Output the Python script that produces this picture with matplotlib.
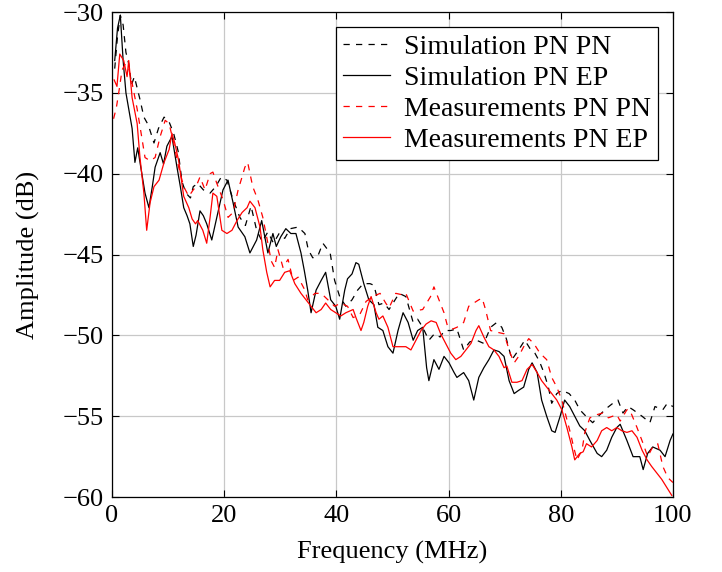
import numpy as np
import matplotlib.pyplot as plt

plt.rcParams['font.family'] = ['Liberation Serif', 'DejaVu Serif']
plt.rcParams['mathtext.fontset'] = 'stix'

# Simulation PN PN (black dashed)
f_sim_pnpn = [0.5, 1, 1.5, 2, 2.5, 3, 3.5, 4, 5, 5.7, 6.5, 7.5, 8.3, 9.3, 10.2, 11, 11.8, 12.5, 13.2,
              14, 14.5, 15.3, 16.3, 17.5, 18.5, 19.5, 20.5, 21.5, 22.8, 23.8, 24.8, 25.8, 26.8, 27.8,
              28.8, 29.8, 30.8, 31.8, 33.2, 34.4, 35, 35.8, 36.7, 37.6, 38.9, 39.7, 40.6, 41.7, 42.8,
              43.8, 44.8, 46, 46.7, 47.6, 48.5, 49.4, 50.3, 51.2, 52.4, 53.7, 54.5, 55.4, 56.5, 57.5,
              58.5, 59.3, 60.4, 61.5, 62.7, 63.8, 65, 66.3, 67.5, 68.6, 69.5, 70.3, 71.3, 72.5, 73.6,
              74.5, 75.4, 76.2, 77, 77.8, 78.4, 79.3, 80.2, 81.5, 82.5, 83.4, 84.5, 85.7, 87, 88.2,
              89.3, 90.2, 91.1, 92, 92.9, 94.5, 95.9, 96.8, 98.2, 99, 100]
v_sim_pnpn = [-33.5, -31.5, -30.2, -30.8, -32.5, -33.2, -34.5, -34.0, -35.4, -36.5, -37.0, -38.1, -37.2, -36.5,
              -36.8, -37.5, -38.6, -40.5, -41.2, -41.5, -40.8, -40.6, -41.0, -41.2, -40.8, -40.2, -40.4,
              -41.5, -42.7, -43.2, -42.0, -43.5, -44.2, -43.6, -44.3, -43.7, -44.0, -43.4, -43.3, -43.7,
              -44.7, -45.2, -45.1, -44.3, -44.9, -46.6, -47.6, -48.2, -47.8, -47.2, -46.8, -46.8, -46.9,
              -48.1, -48.0, -48.4, -47.9, -47.4, -47.6, -49.2, -49.0, -49.5, -50.3, -49.9, -50.1, -49.7,
              -49.7, -49.6, -50.9, -50.4, -50.3, -50.5, -49.5, -49.2, -49.5, -50.2, -51.5, -50.9, -50.3,
              -50.8, -51.1, -51.6, -52.3, -53.2, -54.2, -53.6, -53.4, -53.6, -54.0, -54.6, -55.0, -55.4,
              -54.9, -54.5, -54.2, -54.0, -54.8, -54.4, -54.6, -55.0, -55.4, -54.4, -54.6, -54.2, -54.4]

# Simulation PN EP (black solid)
f_sim_pnep = [0.5, 1, 1.5, 2, 2.5, 3, 3.6, 4.1, 4.6, 5.1, 5.9, 6.6, 7.2, 7.7, 8.6, 9.2, 9.8, 10.7, 11.6,
              12.2, 12.8, 13.4, 13.9, 14.5, 15, 15.7, 16.3, 16.9, 17.8, 18.7, 19.8, 20.7, 21.6, 22.5,
              23.7, 24.6, 25.8, 26.7, 27.8, 28.7, 29.3, 30.1, 31, 31.9, 32.8, 33.7, 34.3, 34.9, 35.5,
              36.4, 37.3, 38.1, 39, 39.9, 40.6, 41.5, 42, 42.8, 43.5, 44, 44.9, 45.8, 46.7, 47.4, 48.3,
              49.2, 50.1, 51, 51.9, 52.8, 53.7, 54.5, 55.4, 56.1, 56.5, 57.4, 58.3, 59.2, 60.1, 61,
              61.5, 62.7, 63.6, 64.5, 65.4, 66.3, 67.2, 68.1, 69, 69.9, 70.8, 71.7, 72.5, 73.4, 74.3,
              74.9, 75.8, 76.6, 77.5, 78.4, 79, 79.9, 80.7, 81.6, 82.5, 83.4, 84.3, 85.2, 86.5, 87.3,
              88.2, 89.1, 90, 90.6, 91.8, 92.9, 94.1, 94.7, 95.5, 96.4, 97.7, 98.6, 99.5, 100]
v_sim_pnep = [-33.0, -31.0, -30.2, -33.0, -35.0, -36.0, -37.2, -39.3, -38.4, -39.5, -41.2, -42.1, -40.8,
              -39.6, -38.7, -39.4, -38.3, -37.7, -39.6, -40.8, -42.1, -42.6, -43.1, -44.5, -43.8, -42.3,
              -42.6, -43.1, -44.1, -42.7, -41.0, -40.4, -41.8, -43.3, -43.9, -44.9, -44.1, -42.9, -44.9,
              -43.7, -44.5, -43.9, -43.4, -43.7, -43.7, -44.9, -46.0, -47.2, -48.6, -47.2, -46.6, -46.1,
              -47.8, -48.2, -49.0, -47.2, -46.5, -46.2, -45.5, -45.6, -46.8, -47.8, -48.1, -49.5, -49.7,
              -50.7, -51.1, -49.7, -48.6, -49.2, -50.3, -49.7, -49.5, -52.0, -52.8, -51.5, -52.1, -51.3,
              -51.7, -52.3, -52.6, -52.3, -52.8, -54.0, -52.6, -52.0, -51.5, -50.9, -51.0, -51.3, -52.8,
              -53.6, -53.4, -53.2, -52.1, -51.7, -52.3, -54.0, -55.0, -55.9, -56.0, -55.0, -54.0, -54.4,
              -55.0, -55.6, -55.9, -56.5, -57.3, -57.5, -57.1, -56.3, -55.7, -55.5, -56.5, -57.5, -57.5,
              -58.3, -57.3, -56.9, -57.1, -57.5, -56.5, -56.1]

# Measurements PN PN (red dashed)
f_mes_pnpn = [0.3, 0.8, 1.3, 1.8, 2.4, 3.0, 3.6, 4.5, 5.3, 5.9, 6.8, 7.7, 8.6, 9.5, 10.2, 11, 11.9, 12.8,
              13.7, 14.5, 15, 15.7, 16.6, 17.5, 18, 18.7, 19.8, 20.7, 21.6, 22.5, 23.2, 23.7, 24.2, 25.1,
              26, 26.9, 27.8, 28.4, 29, 29.6, 30.5, 31.4, 32.3, 33.2, 34.4, 34.9, 36.2, 37.3, 38.5, 39.7,
              40.8, 42, 43, 44.2, 45.3, 46.5, 47.8, 48.8, 49.4, 50.6, 51.9, 52.4, 53.7, 55.4, 56.8, 57.4,
              58.3, 59.2, 59.8, 60.8, 61.5, 62.7, 63.6, 64.5, 65.4, 66, 66.6, 67.5, 68.6, 69.9, 71, 71.7,
              72.5, 73.4, 74.3, 75.2, 76.3, 77.5, 78.4, 79.3, 80.2, 81.1, 81.7, 82.3, 82.9, 83.8, 84.3,
              85.2, 86.5, 87.5, 88.5, 90, 90.6, 91.8, 92.3, 93.6, 94.7, 95.5, 96.4, 97.3, 98.2, 99.1, 100]
v_mes_pnpn = [-36.6, -35.9, -34.8, -33.6, -33.2, -33.5, -34.4, -36.0, -37.7, -39.0, -39.2, -39.0, -37.7,
              -36.7, -36.9, -38.1, -39.6, -40.8, -41.4, -41.0, -40.8, -40.2, -41.0, -40.0, -39.9, -40.6,
              -41.6, -42.7, -42.4, -41.0, -40.2, -39.6, -39.3, -40.8, -41.6, -42.7, -44.3, -45.4, -45.8,
              -44.7, -45.8, -45.3, -46.6, -46.4, -47.2, -47.8, -47.4, -47.4, -47.8, -48.2, -48.0, -48.2,
              -48.9, -48.7, -47.9, -47.6, -47.4, -48.0, -48.3, -47.4, -47.5, -47.4, -48.5, -48.4, -47.6,
              -47.0, -47.8, -48.6, -49.4, -49.6, -49.5, -49.2, -48.2, -48.0, -47.8, -47.7, -48.4, -49.7,
              -49.8, -49.9, -51.1, -51.7, -51.3, -50.7, -50.2, -50.5, -51.1, -51.5, -52.6, -53.2, -54.0,
              -55.2, -56.0, -56.9, -57.7, -57.1, -56.0, -55.1, -54.9, -54.8, -55.1, -54.9, -55.3, -54.6,
              -54.6, -55.7, -56.7, -57.5, -56.9, -56.7, -58.1, -58.8, -59.1]

# Measurements PN EP (red solid)
f_mes_pnep = [0.4, 0.9, 1.4, 2.1, 2.7, 3.0, 3.6, 4.5, 5.0, 5.7, 6.2, 6.8, 7.5, 8.4, 9.3, 10.2, 10.7, 11.2,
              11.9, 12.8, 13.7, 14.3, 14.9, 15.3, 16.2, 16.9, 17.5, 18, 18.7, 19.6, 20.5, 21.4, 22.3, 23.2,
              24.1, 24.6, 25.5, 26.4, 26.9, 27.6, 28.2, 29, 29.9, 30.8, 31.7, 32.6, 33.7, 34.6, 35.5,
              36.4, 37.3, 38.1, 39, 39.9, 40.8, 41.7, 43, 43.5, 44.4, 44.9, 45.6, 46.2, 47.1, 47.6, 48.3,
              49.2, 50.1, 51.2, 52.4, 53.3, 54.2, 55.1, 56, 56.9, 57.8, 58.6, 59.5, 60.4, 61.3, 62.2,
              63.1, 64, 64.9, 65.4, 66.3, 67.2, 68.1, 69, 69.9, 70.4, 71.3, 72.2, 73.1, 74, 74.9, 75.8,
              76.6, 77.5, 78.4, 79.3, 80.2, 81.1, 82, 82.5, 83.4, 84, 84.6, 85.5, 86.5, 87.3, 88.2, 89.1,
              90, 90.9, 91.8, 92.7, 93.6, 94.5, 95.4, 96.2, 97.1, 98, 98.9, 99.8]
v_mes_pnep = [-34.2, -34.6, -32.6, -33.0, -34.0, -33.0, -35.3, -36.9, -39.0, -41.2, -43.5, -41.8, -40.8,
              -40.4, -39.3, -38.5, -37.5, -38.1, -39.2, -41.4, -42.1, -42.8, -43.1, -42.9, -43.5, -44.3,
              -42.7, -41.2, -41.4, -43.5, -43.7, -43.5, -42.9, -42.4, -42.1, -41.7, -42.1, -43.3, -44.7,
              -46.1, -47.0, -46.6, -46.6, -46.1, -46.0, -46.8, -47.4, -47.8, -48.2, -48.6, -48.4, -48.0,
              -48.4, -48.6, -48.8, -48.6, -48.4, -48.9, -49.7, -49.2, -48.2, -47.6, -48.6, -49.0, -48.8,
              -49.5, -50.7, -50.7, -50.7, -50.9, -50.3, -49.7, -49.3, -49.1, -49.2, -49.9, -50.5, -51.1,
              -51.5, -51.3, -50.9, -50.5, -49.7, -49.4, -50.1, -50.7, -50.9, -51.3, -52.0, -51.9, -52.9,
              -52.9, -52.8, -52.1, -51.8, -52.3, -52.8, -53.2, -53.6, -54.0, -54.6, -55.7, -56.9, -57.7,
              -57.3, -57.2, -56.7, -56.9, -56.5, -55.9, -55.7, -55.9, -55.7, -55.9, -56.0, -55.9, -56.3,
              -57.1, -57.7, -58.1, -58.5, -58.9, -59.4, -59.9]

fig, ax = plt.subplots(figsize=(7.22, 5.72), dpi=100)
fig.subplots_adjust(left=0.155, right=0.932, top=0.979, bottom=0.131)

dash = (0, (5, 5))
ax.plot(f_sim_pnpn, v_sim_pnpn, color='black', lw=0.9, ls=dash, label='Simulation PN PN')
ax.plot(f_sim_pnep, v_sim_pnep, color='black', lw=0.9, label='Simulation PN EP')
ax.plot(f_mes_pnpn, v_mes_pnpn, color='red', lw=0.9, ls=dash, label='Measurements PN PN')
ax.plot(f_mes_pnep, v_mes_pnep, color='red', lw=0.9, label='Measurements PN EP')

ax.set_xlim(0, 100)
ax.set_ylim(-60, -30)
ax.set_xticks(np.arange(0, 101, 20))
ax.set_yticks(np.arange(-60, -29, 5))
ax.grid(True, color='#c8c8c8', lw=0.9)
ax.tick_params(direction='in', top=True, right=True, length=5, width=0.8, labelsize=19, pad=6)
for s in ax.spines.values():
    s.set_linewidth(0.9)

ax.set_xlabel('Frequency (MHz)', fontsize=19, labelpad=10)
ax.set_ylabel('Amplitude (dB)', fontsize=19, labelpad=16)

leg = ax.legend(loc='upper right', fontsize=20, fancybox=False, edgecolor='black',
                framealpha=1, handlelength=1.7, handletextpad=0.5, borderaxespad=0.55,
                labelspacing=0.2, borderpad=0.25)
leg.get_frame().set_linewidth(0.9)

fig.savefig('out.png', dpi=100)
